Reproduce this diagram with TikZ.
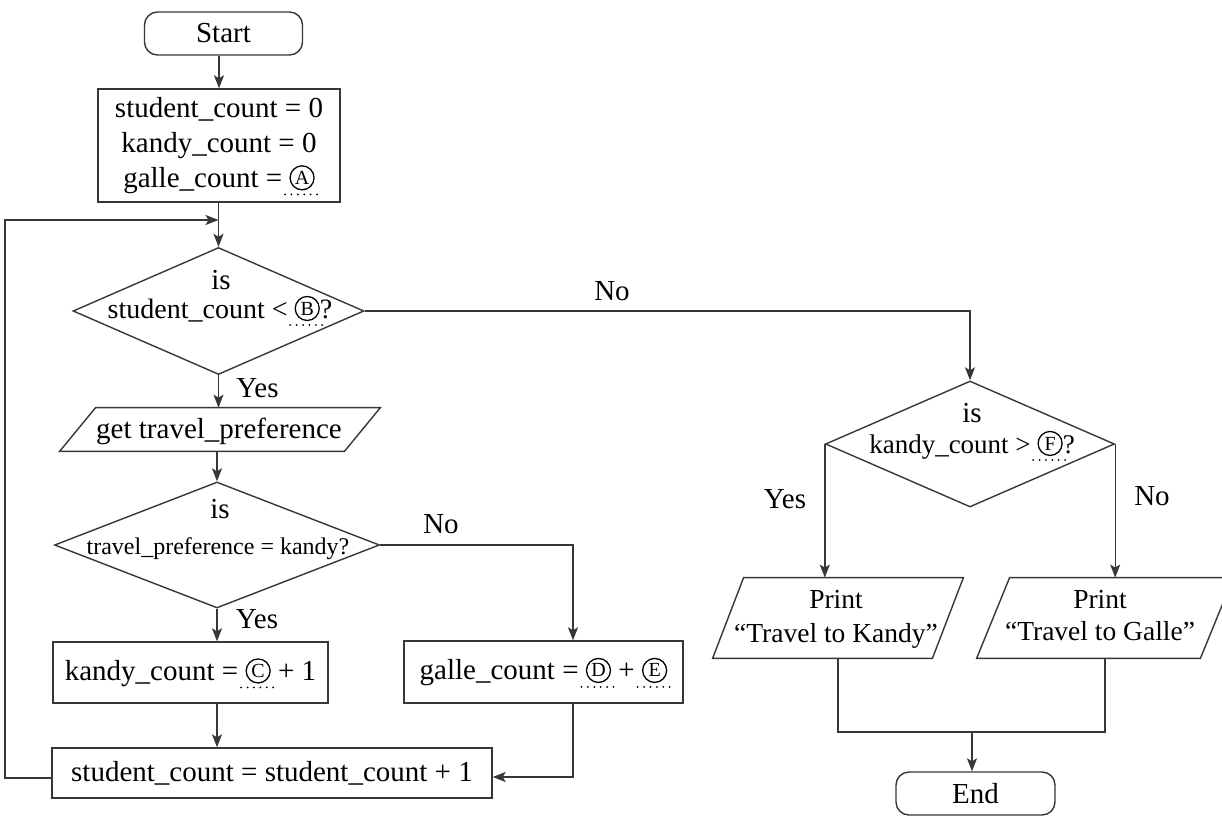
\documentclass[tikz,border=0pt]{standalone}
\usepackage{fontspec}
\setmainfont{Liberation Serif}
\usetikzlibrary{shapes.geometric,arrows.meta}
\definecolor{lc}{RGB}{55,55,55}
\newcommand\fmain{\fontsize{14.5}{17.5}\selectfont}
\newcommand\circlet[1]{\tikz[baseline={([yshift=-1.5pt]X.base)}]{\node[circle,draw=black,line width=0.65pt,inner sep=0pt,minimum size=12pt,font=\fontsize{10}{10}\selectfont](X){#1};\draw[overlay,black,line width=1pt,line cap=round,dash pattern=on 0pt off 3.2pt]([xshift=-8.5pt,yshift=-5pt]X.base)--([xshift=9pt,yshift=-5pt]X.base);}}
\begin{document}
\begin{tikzpicture}[x=0.5pt,y=-0.5pt,
  box/.style={draw=lc,line width=0.7pt,rectangle,inner sep=0pt,font=\fmain,align=center},
  term/.style={box,rounded corners=6.5pt},
  dia/.style={draw=lc,line width=0.7pt,diamond,inner sep=0pt},
  para/.style={rectangle,inner sep=0pt},
  txt/.style={font=\fmain,inner sep=0pt,anchor=base},
  lbl/.style={font=\fmain,inner sep=0pt,anchor=base},
  arr/.style={draw=lc,line width=0.7pt,-{Stealth[length=6.5pt,width=5pt,inset=1.5pt]}},
  ln/.style={draw=lc,line width=0.7pt}]
\fill[white] (0,0) rectangle (1222,819);
\path[use as bounding box] (0,0) rectangle (1222,819);

% left column
\node[term,minimum width=79pt,minimum height=21.5pt] (start) at (223.5,33.5) {Start};
\node[box,minimum width=121pt,minimum height=56.5pt] (init) at (219,145.5) {student\_count = 0\\kandy\_count = 0\\galle\_count = \circlet{A}};

\node[dia,minimum width=145.5pt,minimum height=63.5pt] (d1) at (218.5,311) {};
\node[txt] (d1a) at (221,289) {is};
\node[txt,font=\fontsize{14}{17}\selectfont] (d1b) at (220,318) {student\_count < \circlet{B}?};

\node[para,minimum width=160pt,minimum height=21.5pt] (p1) at (220,429.5) {};
\draw[ln] ([xshift=18pt]p1.north west) -- (p1.north east) -- ([xshift=-18pt]p1.south east) -- (p1.south west) -- cycle;
\node[txt] (p1T) at (219,438) {get travel\_preference};

\node[dia,minimum width=162.5pt,minimum height=63pt] (d2) at (217,545) {};
\node[txt] (d2a) at (220,518) {is};
\node[txt,font=\fontsize{12}{14}\selectfont] (d2b) at (218,554) {travel\_preference = kandy?};

\node[box,minimum width=137.5pt,minimum height=30.5pt] (kandy) at (190.5,672.5) {kandy\_count = \circlet{C} + 1};
\node[box,minimum width=139.5pt,minimum height=31pt] (galle) at (543.5,672) {galle\_count = \circlet{D} + \circlet{E}};
\node[box,minimum width=220pt,minimum height=25pt] (stud) at (272,773) {student\_count = student\_count + 1};

% right column
\node[dia,minimum width=144.5pt,minimum height=63pt] (d3) at (970,444) {};
\node[txt] (d3a) at (972,422) {is};
\node[txt,font=\fontsize{13.5}{16}\selectfont] (d3b) at (972,453) {kandy\_count > \circlet{F}?};

\node[para,minimum width=125pt,minimum height=40pt] (pk) at (838,618) {};
\draw[ln] ([xshift=15.5pt]pk.north west) -- (pk.north east) -- ([xshift=-15.5pt]pk.south east) -- (pk.south west) -- cycle;
\node[txt,font=\fontsize{13.75}{16}\selectfont] (pkA) at (836,608) {Print};
\node[txt,font=\fontsize{13.75}{16}\selectfont] (pkB) at (836,642) {“Travel to Kandy”};

\node[para,minimum width=128pt,minimum height=40pt] (pg) at (1105,618) {};
\draw[ln] ([xshift=16.5pt]pg.north west) -- (pg.north east) -- ([xshift=-16.5pt]pg.south east) -- (pg.south west) -- cycle;
\node[txt,font=\fontsize{13.75}{16}\selectfont] (pgA) at (1100,608) {Print};
\node[txt,font=\fontsize{13.75}{16}\selectfont] (pgB) at (1100,640) {“Travel to Galle”};

\node[term,minimum width=79.5pt,minimum height=21.5pt] (stop) at (975.5,793.5) {End};

% labels
\node[lbl] (y1) at (257.5,397) {Yes};
\node[lbl] (n1) at (612,300) {No};
\node[lbl] (y2) at (257,628) {Yes};
\node[lbl] (n2) at (441,533) {No};
\node[lbl] (y3) at (785,508) {Yes};
\node[lbl] (n3) at (1152,505) {No};

% connectors
\coordinate (mg) at (218.5,220);
\coordinate (lp) at (5,778);
\coordinate (gx) at (573,0);
\coordinate (sr) at (0,777);
\coordinate (jn) at (972,732);

\draw[arr] (init.north |- start.south) -- (init.north);
\draw[arr] (d1.north |- init.south) -- (d1.north);
\draw[arr] (stud.west |- lp) -- (lp) -- (lp |- mg) -- (mg);
\draw[arr] (d1.south) -- (d1.south |- p1.north);
\draw[arr] (d1.east) -- (d1.east -| d3.north) -- (d3.north);
\draw[arr] (d2.north |- p1.south) -- (d2.north);
\draw[arr] (d2.south) -- (d2.south |- kandy.north);
\draw[arr] (d2.east) -- (d2.east -| gx) -- (gx |- galle.north);
\draw[arr] (d2.south |- kandy.south) -- (d2.south |- stud.north);
\draw[arr] (gx |- galle.south) -- (gx |- sr) -- (stud.east |- sr);
\draw[arr] (d3.west) -- (d3.west |- pk.north);
\draw[arr] (d3.east) -- (d3.east |- pg.north);
\draw[ln] (pk.south) -- (pk.south |- jn) -- (pg.south |- jn) -- (pg.south);
\draw[arr] (jn) -- (jn |- stop.north);
\end{tikzpicture}
\end{document}
